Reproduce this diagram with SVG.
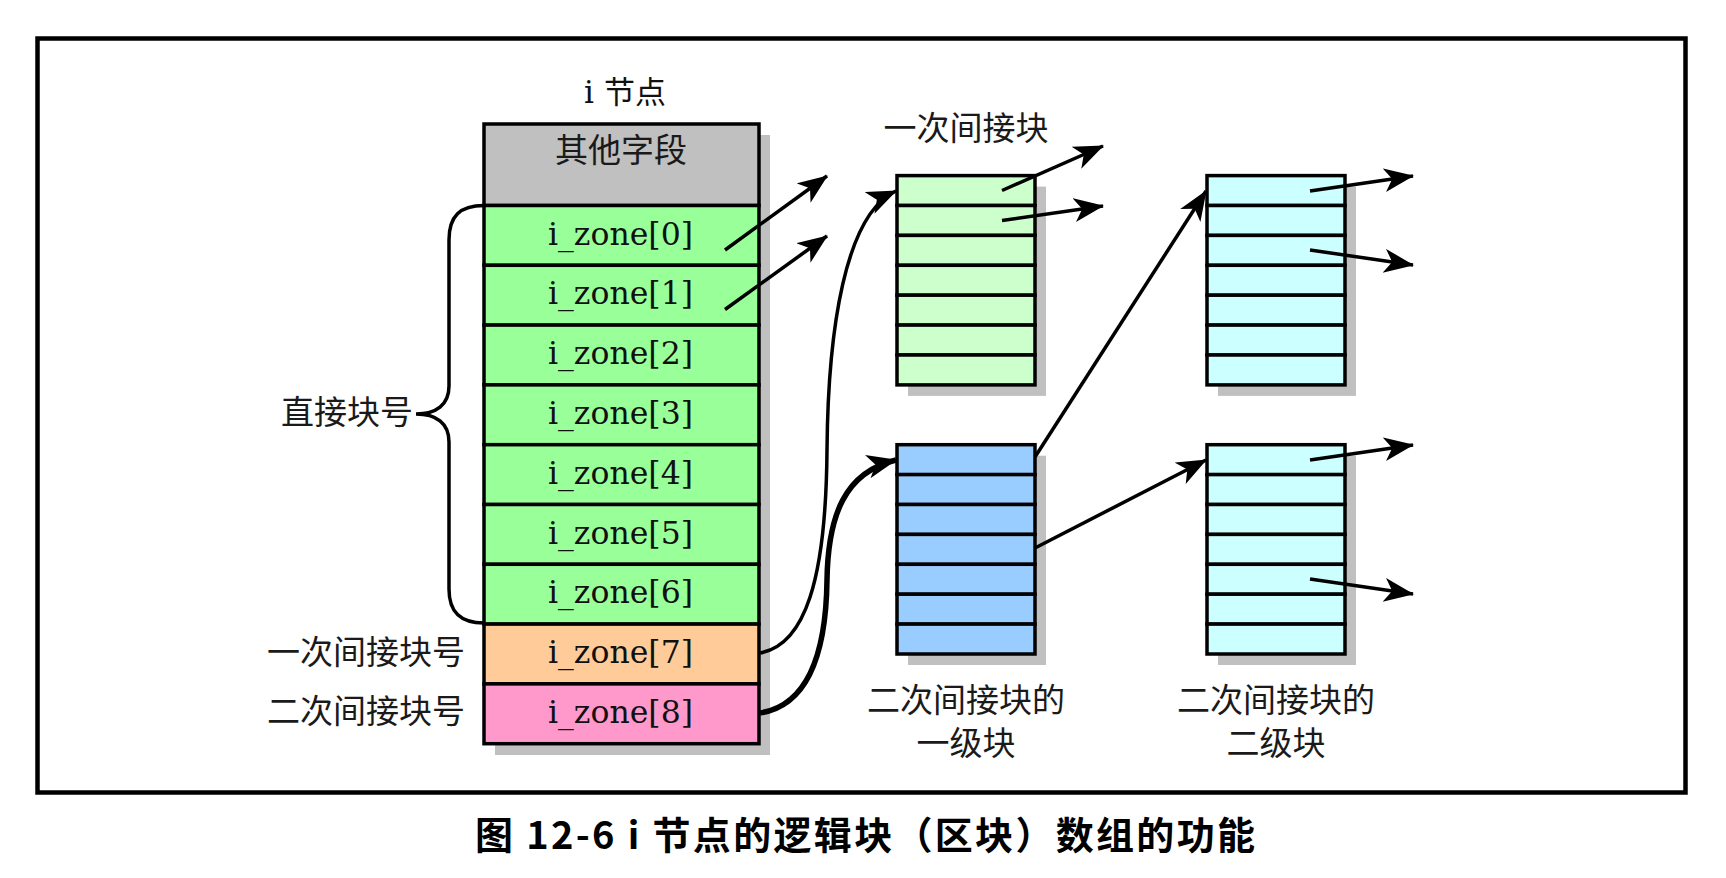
<svg xmlns="http://www.w3.org/2000/svg" width="1726" height="878" viewBox="0 0 1726 878">
<defs>
<style>
.bx{stroke:#000;stroke-width:3.5}
.sh{fill:#c0c0c0}
.cjk{font-family:"Noto Sans CJK SC","Noto Sans CJK JP",sans-serif;font-size:33px;fill:#1a1a1a}
.mono{font-family:"DejaVu Serif","Noto Sans CJK SC",serif;font-size:31px;fill:#111}
.ln{stroke:#000;stroke-width:3.5;fill:none}
.thick{stroke-width:5.5}
.g{fill:#99ff99}.o{fill:#ffcc99}.p{fill:#ff99cc}.hd{fill:#c0c0c0}
.lg{fill:#ccffcc}.cy{fill:#ccffff}.bl{fill:#99ccff}
</style>
<marker id="ah" markerUnits="userSpaceOnUse" markerWidth="32" markerHeight="26" refX="29" refY="12" orient="auto" viewBox="0 0 32 26">
<path d="M0,0 L30,12 L0,24 L8,12 z" fill="#000"/>
</marker>
</defs>
<rect width="1726" height="878" fill="#fff"/>
<rect x="37.5" y="38.5" width="1648" height="754" fill="none" stroke="#000" stroke-width="4.5"/>

<g id="inode">
<text x="625" y="103" class="mono" text-anchor="middle" font-size="30">i 节点</text>
<rect x="495" y="135" width="275" height="620" class="sh"/>
<rect x="484" y="124" width="275" height="81.5" class="bx hd"/>
<text x="621" y="162" class="cjk" text-anchor="middle">其他字段</text>
<rect x="484" y="205.5" width="275" height="59.8" class="bx g"/>
<rect x="484" y="265.3" width="275" height="59.8" class="bx g"/>
<rect x="484" y="325.1" width="275" height="59.8" class="bx g"/>
<rect x="484" y="384.9" width="275" height="59.8" class="bx g"/>
<rect x="484" y="444.7" width="275" height="59.8" class="bx g"/>
<rect x="484" y="504.5" width="275" height="59.8" class="bx g"/>
<rect x="484" y="564.3" width="275" height="59.8" class="bx g"/>
<rect x="484" y="624.1" width="275" height="59.8" class="bx o"/>
<rect x="484" y="683.9" width="275" height="59.8" class="bx p"/>
<text x="620.5" y="244.5" class="mono" text-anchor="middle" textLength="145" lengthAdjust="spacingAndGlyphs">i_zone[0]</text>
<text x="620.5" y="304.3" class="mono" text-anchor="middle" textLength="145" lengthAdjust="spacingAndGlyphs">i_zone[1]</text>
<text x="620.5" y="364.1" class="mono" text-anchor="middle" textLength="145" lengthAdjust="spacingAndGlyphs">i_zone[2]</text>
<text x="620.5" y="423.9" class="mono" text-anchor="middle" textLength="145" lengthAdjust="spacingAndGlyphs">i_zone[3]</text>
<text x="620.5" y="483.7" class="mono" text-anchor="middle" textLength="145" lengthAdjust="spacingAndGlyphs">i_zone[4]</text>
<text x="620.5" y="543.5" class="mono" text-anchor="middle" textLength="145" lengthAdjust="spacingAndGlyphs">i_zone[5]</text>
<text x="620.5" y="603.3" class="mono" text-anchor="middle" textLength="145" lengthAdjust="spacingAndGlyphs">i_zone[6]</text>
<text x="620.5" y="663.1" class="mono" text-anchor="middle" textLength="145" lengthAdjust="spacingAndGlyphs">i_zone[7]</text>
<text x="620.5" y="722.9" class="mono" text-anchor="middle" textLength="145" lengthAdjust="spacingAndGlyphs">i_zone[8]</text>
</g>

<g id="direct-label">
<path d="M484,205.5 C460,205.5 449,216 449,240 L449,386 C449,405 436,414 416,414 C436,414 449,423 449,442 L449,589 C449,612 460,623 484,623" class="ln"/>
<text x="413" y="424" class="cjk" text-anchor="end">直接块号</text>
</g>
<g id="single-label"><text x="465" y="664" class="cjk" text-anchor="end">一次间接块号</text></g>
<g id="double-label"><text x="465" y="723" class="cjk" text-anchor="end">二次间接块号</text></g>

<g id="single-block">
<text x="966" y="140" class="cjk" text-anchor="middle">一次间接块</text>
<rect x="908" y="186.6" width="138" height="209.3" class="sh"/>
<rect x="897" y="175.6" width="138" height="29.9" class="bx lg"/>
<rect x="897" y="205.5" width="138" height="29.9" class="bx lg"/>
<rect x="897" y="235.4" width="138" height="29.9" class="bx lg"/>
<rect x="897" y="265.3" width="138" height="29.9" class="bx lg"/>
<rect x="897" y="295.2" width="138" height="29.9" class="bx lg"/>
<rect x="897" y="325.1" width="138" height="29.9" class="bx lg"/>
<rect x="897" y="355" width="138" height="29.9" class="bx lg"/>
</g>

<g id="double-l1">
<rect x="908" y="455.7" width="138" height="209.3" class="sh"/>
<rect x="897" y="444.7" width="138" height="29.9" class="bx bl"/>
<rect x="897" y="474.6" width="138" height="29.9" class="bx bl"/>
<rect x="897" y="504.5" width="138" height="29.9" class="bx bl"/>
<rect x="897" y="534.4" width="138" height="29.9" class="bx bl"/>
<rect x="897" y="564.3" width="138" height="29.9" class="bx bl"/>
<rect x="897" y="594.2" width="138" height="29.9" class="bx bl"/>
<rect x="897" y="624.1" width="138" height="29.9" class="bx bl"/>
<text class="cjk" text-anchor="middle"><tspan x="966" y="712">二次间接块的</tspan><tspan x="966" y="755">一级块</tspan></text>
</g>

<g id="double-l2-a">
<rect x="1218" y="186.6" width="138" height="209.3" class="sh"/>
<rect x="1207" y="175.6" width="138" height="29.9" class="bx cy"/>
<rect x="1207" y="205.5" width="138" height="29.9" class="bx cy"/>
<rect x="1207" y="235.4" width="138" height="29.9" class="bx cy"/>
<rect x="1207" y="265.3" width="138" height="29.9" class="bx cy"/>
<rect x="1207" y="295.2" width="138" height="29.9" class="bx cy"/>
<rect x="1207" y="325.1" width="138" height="29.9" class="bx cy"/>
<rect x="1207" y="355" width="138" height="29.9" class="bx cy"/>
</g>

<g id="double-l2-b">
<rect x="1218" y="455.7" width="138" height="209.3" class="sh"/>
<rect x="1207" y="444.7" width="138" height="29.9" class="bx cy"/>
<rect x="1207" y="474.6" width="138" height="29.9" class="bx cy"/>
<rect x="1207" y="504.5" width="138" height="29.9" class="bx cy"/>
<rect x="1207" y="534.4" width="138" height="29.9" class="bx cy"/>
<rect x="1207" y="564.3" width="138" height="29.9" class="bx cy"/>
<rect x="1207" y="594.2" width="138" height="29.9" class="bx cy"/>
<rect x="1207" y="624.1" width="138" height="29.9" class="bx cy"/>
<text class="cjk" text-anchor="middle"><tspan x="1276" y="712">二次间接块的</tspan><tspan x="1276" y="755">二级块</tspan></text>
</g>

<g id="connectors">
<path d="M725,250 L827,176" class="ln" marker-end="url(#ah)"/>
<path d="M725,309.5 L827,236" class="ln" marker-end="url(#ah)"/>
<path d="M760,653 C805,645 826,580 827,450 C828,330 845,214 896,191" class="ln" marker-end="url(#ah)"/>
<path d="M760,713 C805,706 826,660 827,580 C828,515 845,472 896,460" class="ln thick" marker-end="url(#ah)"/>
<path d="M1002,190.5 L1103,146" class="ln" marker-end="url(#ah)"/>
<path d="M1002,220.5 L1103,206" class="ln" marker-end="url(#ah)"/>
<path d="M1035,457 L1206,191" class="ln" marker-end="url(#ah)"/>
<path d="M1035,548 L1206,460" class="ln" marker-end="url(#ah)"/>
<path d="M1310,191 L1413,176" class="ln" marker-end="url(#ah)"/>
<path d="M1310,250 L1413,265" class="ln" marker-end="url(#ah)"/>
<path d="M1310,460 L1413,445" class="ln" marker-end="url(#ah)"/>
<path d="M1310,579 L1413,594" class="ln" marker-end="url(#ah)"/>
</g>

<text x="865" y="849" font-family="Noto Sans CJK SC, sans-serif" font-size="38" font-weight="bold" text-anchor="middle" textLength="780" fill="#000">图 12-6 i 节点的逻辑块（区块）数组的功能</text>
</svg>
